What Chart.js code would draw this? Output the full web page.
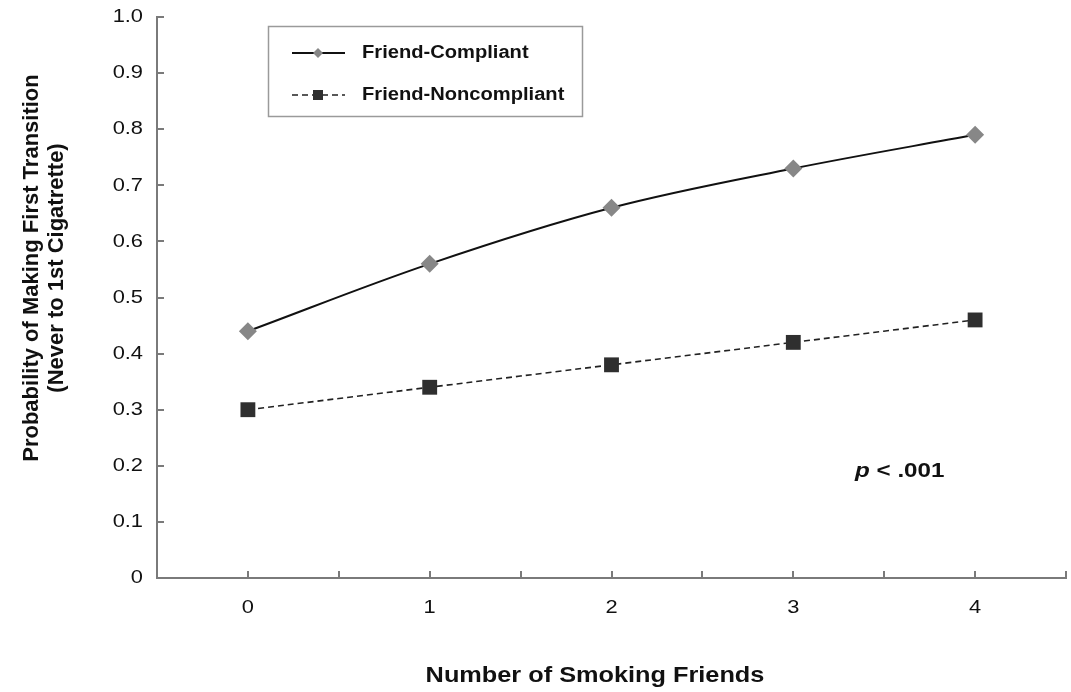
<!DOCTYPE html>
<html>
<head>
<meta charset="utf-8">
<script src="https://cdn.jsdelivr.net/npm/chart.js@4"></script>
<style>
    body { margin: 0; background: #fff; }
    #wrap { width: 1071px; height: 692px; position: relative; }
</style>
</head>
<body>
<div id="wrap"><canvas id="Chart1"></canvas></div>
<script>
// values
const friendCounts = [0, 1, 2, 3, 4];
const compliantProb = [0.44, 0.56, 0.66, 0.73, 0.79];
const noncompliantProb = [0.30, 0.34, 0.38, 0.42, 0.46];
const seriesNames = ['Friend-Compliant', 'Friend-Noncompliant'];
const xTitle = 'Number of Smoking Friends';
const yTitleLines = ['Probability of Making First Transition', '(Never to 1st Cigatrette)'];
const noteText = '< .001';

const fontFamily = '"Liberation Sans", Arial, sans-serif';
const axisColor = '#7a7a7a';
const textColor = '#111';
const sx = 1.15; // the source figure is a bit stretched sideways

function stretchText(ctx, text, x, y, align) {
    ctx.save();
    ctx.translate(x, y);
    ctx.scale(sx, 1);
    ctx.textAlign = align;
    ctx.fillText(text, 0, 0);
    ctx.restore();
}

function toPoints(values) {
    return friendCounts.map((f, i) => ({x: f, y: values[i]}));
}

const overlay = {
    id: 'overlay',
    afterDatasetsDraw(chart) {
        const ctx = chart.ctx;
        const xs = chart.scales.x;
        const ys = chart.scales.y;

        // inside tick marks
        ctx.save();
        ctx.strokeStyle = axisColor;
        ctx.lineWidth = 2;
        ctx.beginPath();
        xs.ticks.forEach(t => {
            const px = Math.round(xs.getPixelForValue(t.value));
            ctx.moveTo(px, ys.bottom);
            ctx.lineTo(px, ys.bottom - 7);
        });
        ys.ticks.forEach(t => {
            const py = Math.round(ys.getPixelForValue(t.value));
            ctx.moveTo(xs.left, py);
            ctx.lineTo(xs.left + 7, py);
        });
        ctx.stroke();
        ctx.restore();

        // tick labels
        ctx.save();
        ctx.fillStyle = textColor;
        ctx.font = '19px ' + fontFamily;
        ctx.textBaseline = 'middle';
        ys.ticks.forEach(t => {
            const label = t.value === 0 ? '0' : t.value.toFixed(1);
            stretchText(ctx, label, xs.left - 14, ys.getPixelForValue(t.value), 'right');
        });
        xs.ticks.forEach(t => {
            if (Math.abs(t.value - Math.round(t.value)) > 1e-6) return;
            stretchText(ctx, String(Math.round(t.value)), xs.getPixelForValue(t.value), ys.bottom + 30, 'center');
        });

        // axis titles
        ctx.font = 'bold 22px ' + fontFamily;
        stretchText(ctx, xTitle, 595, 676, 'center');

        ctx.textAlign = 'center';
        yTitleLines.forEach((line, i) => {
            ctx.save();
            ctx.translate(32 + i * 25, 268);
            ctx.rotate(-Math.PI / 2);
            ctx.fillText(line, 0, 0);
            ctx.restore();
        });

        // p value note
        const nx = xs.getPixelForValue(3.34);
        const ny = ys.getPixelForValue(0.19);
        ctx.font = 'bold italic 21px ' + fontFamily;
        ctx.textAlign = 'left';
        ctx.save();
        ctx.translate(nx, ny);
        ctx.scale(sx, 1);
        ctx.fillText('p', 0, 0);
        const pw = ctx.measureText('p ').width;
        ctx.font = 'bold 21px ' + fontFamily;
        ctx.fillText(noteText, pw, 0);
        ctx.restore();

        // legend box
        ctx.strokeStyle = '#9a9a9a';
        ctx.lineWidth = 1.5;
        ctx.strokeRect(268.5, 26.5, 314, 90);
        const rows = [53, 95];
        chart.data.datasets.forEach((ds, i) => {
            const y = rows[i];
            ctx.save();
            ctx.strokeStyle = ds.borderColor;
            ctx.lineWidth = ds.borderWidth;
            ctx.setLineDash(ds.borderDash || []);
            ctx.beginPath();
            ctx.moveTo(292, y);
            ctx.lineTo(345, y);
            ctx.stroke();
            ctx.restore();
            ctx.save();
            ctx.fillStyle = ds.pointBackgroundColor;
            ctx.beginPath();
            if (ds.pointStyle === 'rectRot') {
                ctx.moveTo(318, y - 5);
                ctx.lineTo(323, y);
                ctx.lineTo(318, y + 5);
                ctx.lineTo(313, y);
                ctx.closePath();
            } else {
                ctx.rect(313, y - 5, 10, 10);
            }
            ctx.fill();
            ctx.restore();
            ctx.fillStyle = textColor;
            ctx.font = 'bold 17.5px ' + fontFamily;
            ctx.textBaseline = 'middle';
            stretchText(ctx, seriesNames[i], 362, y, 'left');
        });
        ctx.restore();
    }
};

const ctx = document.getElementById('Chart1').getContext('2d');
const chart = new Chart(ctx, {
    type: 'line',
    data: {
        datasets: [{
                label: seriesNames[0],
                data: toPoints(compliantProb),
                borderColor: '#111',
                borderWidth: 2,
                tension: 0.35,
                pointStyle: 'rectRot',
                pointRadius: 9,
                pointBackgroundColor: '#878787',
                pointBorderColor: '#878787',
                pointBorderWidth: 0
            }, {
                label: seriesNames[1],
                data: toPoints(noncompliantProb),
                borderColor: '#222',
                borderWidth: 1.6,
                borderDash: [6, 4],
                tension: 0.35,
                pointStyle: 'rect',
                pointRadius: 10.5,
                pointBackgroundColor: '#2f2f2f',
                pointBorderColor: '#2f2f2f',
                pointBorderWidth: 0
            }]
    },
    options: {
        responsive: true,
        maintainAspectRatio: false,
        animation: false,
        layout: {autoPadding: false, padding: {top: 17, right: 5, left: 0, bottom: 0}},
        plugins: {
            legend: {display: false},
            tooltip: {enabled: false}
        },
        scales: {
            x: {
                type: 'linear',
                min: -0.5,
                max: 4.5,
                ticks: {display: false, stepSize: 0.5},
                grid: {display: true, drawOnChartArea: false, drawTicks: false},
                border: {display: true, color: axisColor, width: 2},
                afterFit: s => { s.height = 114; }
            },
            y: {
                min: 0,
                max: 1,
                ticks: {display: false, stepSize: 0.1},
                grid: {display: true, drawOnChartArea: false, drawTicks: false},
                border: {display: true, color: axisColor, width: 2},
                afterFit: s => { s.width = 157; }
            }
        }
    },
    plugins: [overlay]
});
</script>
</body>
</html>
